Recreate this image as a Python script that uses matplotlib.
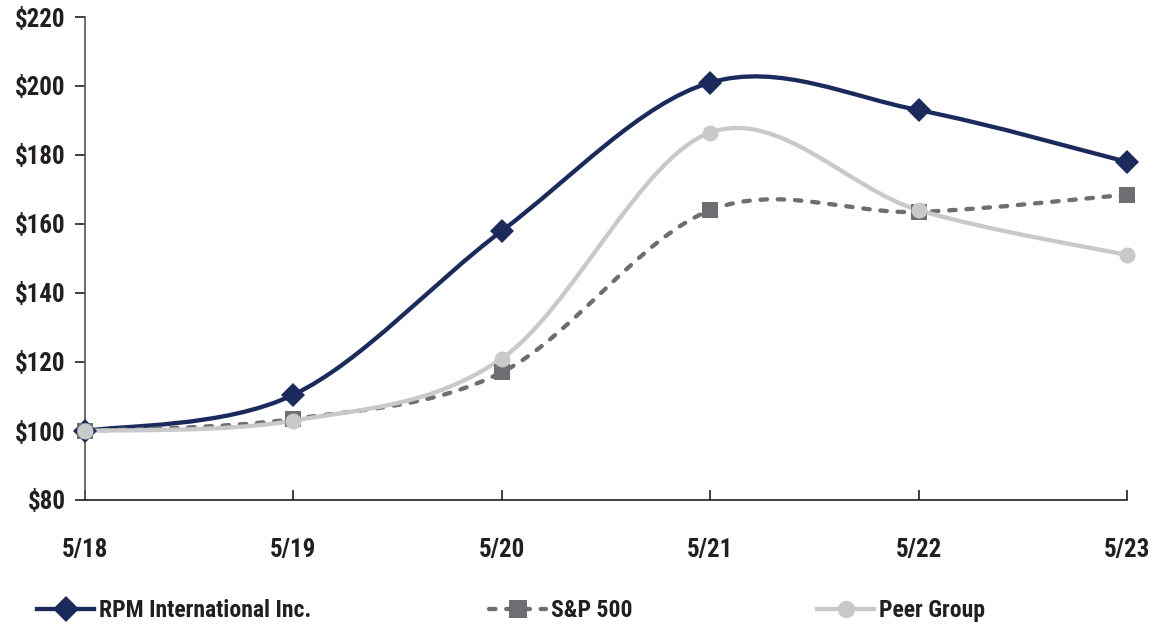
import matplotlib
matplotlib.use('Agg')
import matplotlib.pyplot as plt
from matplotlib.path import Path
from matplotlib.patches import PathPatch
from matplotlib.lines import Line2D
import numpy as np

years = ['5/18', '5/19', '5/20', '5/21', '5/22', '5/23']
rpm = [100, 110.5, 158, 201, 193, 178]
sp500 = [100, 103.5, 117, 164, 163.5, 168.5]
peer = [100, 103, 121, 186.5, 164, 151]
yticks = [80, 100, 120, 140, 160, 180, 200, 220]

plt.rcParams['font.family'] = ['Roboto Condensed', 'Archivo Narrow', 'Open Sans Condensed',
                               'IBM Plex Sans Condensed', 'DejaVu Sans']
plt.rcParams['font.weight'] = 'bold'
txt = '#231f20'


def smooth_path(xs, ys):
  # excel style smoothed line: cubic bezier through the points
  p = np.column_stack([xs, ys]).astype(float)
  ext = np.vstack([p[0], p, p[-1]])
  verts = [p[0]]
  codes = [Path.MOVETO]
  for i in range(len(p) - 1):
    c1 = ext[i + 1] + (ext[i + 2] - ext[i]) / 6.0
    c2 = ext[i + 2] - (ext[i + 3] - ext[i + 1]) / 6.0
    verts += [c1, c2, p[i + 1]]
    codes += [Path.CURVE4] * 3
  return Path(verts, codes)


fig = plt.figure(figsize=(11.59, 6.25), dpi=100)
ax = fig.add_axes([0.0733, 0.2, 0.8991, 0.7728])
x = np.arange(len(years))

series = [
  (rpm, 'RPM International Inc.', '#1b2a5c', '-', 'D', 12.5),
  (sp500, 'S&P 500', '#6d6e71', (0, (1.5, 2.5)), 's', 12),
  (peer, 'Peer Group', '#c8c9cb', '-', 'o', 11.5),
]
handles = []
for z, (vals, name, col, ls, mk, ms) in enumerate(series):
  patch = PathPatch(smooth_path(x, vals), fill=False, edgecolor=col, lw=3.1,
                    linestyle=ls, capstyle='round', zorder=2 + z)
  ax.add_patch(patch)
  ax.plot(x, vals, linestyle='none', marker=mk, ms=ms, color=col, mew=0,
          zorder=5 + z, clip_on=False)
  handles.append(Line2D([], [], color=col, lw=3.1, linestyle=ls, marker=mk,
                        ms=ms + 1, mew=0, dash_capstyle='round', label=name))

ax.set_xlim(0, 5)
ax.set_ylim(80, 220)
ax.set_yticks(yticks)
ax.set_yticklabels(['$%d' % v for v in yticks])
ax.set_xticks(x)
ax.set_xticklabels(years)
for s in ['top', 'right']:
  ax.spines[s].set_visible(False)
ax.spines['left'].set_color('#555555')
ax.spines['bottom'].set_color(txt)
ax.spines['left'].set_linewidth(1.2)
ax.spines['bottom'].set_linewidth(1.2)
ax.tick_params(axis='y', direction='out', length=7, width=1.2, colors=txt,
               labelsize=18, pad=7)
ax.tick_params(axis='x', direction='in', length=7, width=1.2, colors=txt,
               labelsize=18, pad=27)

locs = [(0.0138, -0.029), (0.404, -0.029), (0.687, -0.029)]
for h, (lx, ly) in zip(handles, locs):
  fig.legend(handles=[h], loc='lower left', bbox_to_anchor=(lx, ly),
             frameon=False, fontsize=17, handlelength=2.4, handletextpad=0.2,
             labelcolor=txt)

plt.savefig('out.png', dpi=100)
